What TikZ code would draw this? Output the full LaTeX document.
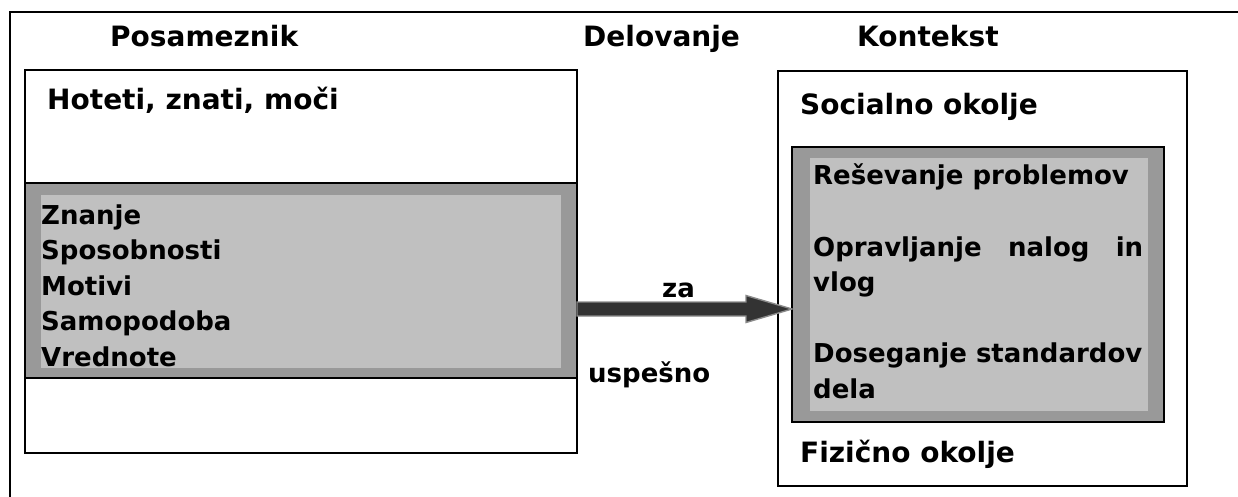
\documentclass[tikz,border=0pt]{standalone}
\usepackage{fontspec}
\setmainfont{DejaVu Sans}
\usetikzlibrary{calc}
\definecolor{bandgray}{HTML}{999999}
\definecolor{fillgray}{HTML}{C0C0C0}
\definecolor{arrowdark}{HTML}{333333}
\definecolor{arrowedge}{HTML}{8A8A8A}
\begin{document}
\begin{tikzpicture}[x=1pt,y=-1pt,
  panel/.style={draw=black, line width=1.6pt, fill=white, anchor=north west, inner sep=0pt, outer sep=0pt},
  band/.style={panel, fill=bandgray},
  inset/.style={anchor=north west, fill=fillgray, inner sep=0pt, outer sep=0pt},
  head/.style={anchor=base west, inner sep=0pt, font=\fontsize{28}{28}\selectfont\bfseries},
  item/.style={anchor=base west, inner sep=0pt, font=\fontsize{26}{26}\selectfont\bfseries},
  frame/.style={line width=1.6pt},
  arrowbody/.style={fill=arrowdark, draw=arrowedge, line width=1.4pt, line join=miter}]
\useasboundingbox (0,0) rectangle (1238,497);

% outer frame (open to the right and bottom)
\draw[frame] (10,497) -- (10,12) -- (1238,12);

% column titles
\node[head] (tposam) at (110,47) {Posameznik};
\node[head] (tdelov) at (583,47) {Delovanje};
\node[head] (tkont)  at (857,47) {Kontekst};

% individual
\node[panel, minimum width=552pt, minimum height=383pt] (lb) at (25,70) {};
\node[band, minimum width=552pt, minimum height=195pt] (lband) at (25,183) {};
\node[inset, minimum width=520pt, minimum height=173pt] (lin) at (41,195) {};
\node[head] (hot) at (47,110) {Hoteti, znati, moči};
\node[item] (i1) at (41,224)   {Znanje};
\node[item] (i2) at (41,259.5) {Sposobnosti};
\node[item] (i3) at (41,295)   {Motivi};
\node[item] (i4) at (41,330.5) {Samopodoba};
\node[item] (i5) at (41,366)   {Vrednote};

% context
\node[panel, minimum width=409pt, minimum height=415pt] (rb) at (778,71) {};
\node[band, minimum width=372pt, minimum height=275pt] (db) at (792,147) {};
\node[inset, minimum width=338pt, minimum height=253pt] (rin) at (810,158) {};
\node[head] (soc) at (800,115) {Socialno okolje};
\node[item] (r1) at (813,185)   {Reševanje problemov};
\node[item] (r2) at (813,256)   {\makebox[330pt][s]{Opravljanje\hfill nalog\hfill in}};
\node[item] (r3) at (813,291.5) {vlog};
\node[item] (r4) at (813,362.5) {Doseganje standardov};
\node[item] (r5) at (813,398)   {dela};
\node[head] (fiz) at (800,462) {Fizično okolje};

% action arrow
\coordinate (ay) at (0,309);
\filldraw[arrowbody]
  ($(lb.east |- ay)+(0,-7)$) -- ($(db.west |- ay)+(-46,-7)$)
  -- ($(db.west |- ay)+(-46,-13.5)$) -- (db.west |- ay)
  -- ($(db.west |- ay)+(-46,13.5)$) -- ($(db.west |- ay)+(-46,7)$)
  -- ($(lb.east |- ay)+(0,7)$) -- cycle;
\node[item] (za) at (662,297) {za};
\node[item] (usp) at (588,382) {uspešno};
\end{tikzpicture}
\end{document}
